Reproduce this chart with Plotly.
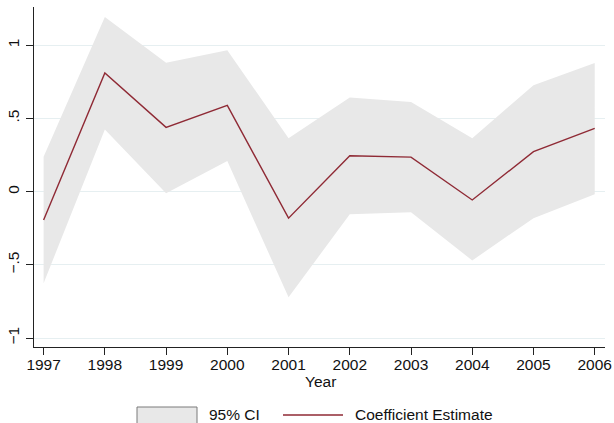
import plotly.graph_objects as go

years = [1997, 1998, 1999, 2000, 2001, 2002, 2003, 2004, 2005, 2006]
coef = [-0.193, 0.811, 0.439, 0.589, -0.181, 0.245, 0.236, -0.057, 0.273, 0.432]
upper = [0.239, 1.193, 0.880, 0.966, 0.364, 0.643, 0.613, 0.364, 0.727, 0.879]
lower = [-0.625, 0.425, -0.011, 0.209, -0.722, -0.154, -0.140, -0.470, -0.181, -0.018]

ytick_vals = [-1, -0.5, 0, 0.5, 1]
ytick_text = ["\u22121", "\u2212.5", "0", ".5", "1"]
xtick_vals = years
xtick_text = [str(y) for y in years]

FONT = "Liberation Sans, Arial, sans-serif"
FS = 15.5
CI_COLOR = "#e8e8e8"
LINE_COLOR = "#8f2a35"

fig = go.Figure()
fig.add_trace(go.Scatter(
    x=years + years[::-1], y=upper + lower[::-1],
    fill="toself", fillcolor=CI_COLOR, line=dict(width=0),
    mode="lines", name="95% CI", hoverinfo="skip", showlegend=False))
fig.add_trace(go.Scatter(
    x=years, y=coef, mode="lines", name="Coefficient Estimate",
    line=dict(color=LINE_COLOR, width=1.4), showlegend=False))

PH = 340.0
PW = 571.0

fig.update_layout(
    width=614, height=423,
    margin=dict(l=34, r=9, t=7, b=76),
    paper_bgcolor="white", plot_bgcolor="white",
    font=dict(family=FONT, size=FS, color="#111111"),
    xaxis=dict(
        range=[1996.843, 2006.168], tickvals=xtick_vals, ticktext=xtick_text,
        showgrid=False, zeroline=False, showline=True, linecolor="#222222", linewidth=1,
        ticks="outside", ticklen=7, tickcolor="#222222", tickwidth=1,
        tickfont=dict(size=FS), automargin=False, ticklabelstandoff=-4,
    ),
    yaxis=dict(
        range=[-1.061, 1.261], tickvals=ytick_vals, ticktext=ytick_text,
        showgrid=True, gridcolor="#e6eff1", gridwidth=1, zeroline=False,
        showline=True, linecolor="#222222", linewidth=1,
        ticks="outside", ticklen=7, tickcolor="#222222", tickwidth=1,
        tickangle=-90, tickfont=dict(size=FS), automargin=False, ticklabelstandoff=1,
    ),
    shapes=[
        dict(type="rect", xref="paper", yref="paper",
             x0=(137 - 34) / PW, x1=(197 - 34) / PW,
             y0=-(423 - 347 + 2) / PH, y1=-(407 - 347) / PH,
             fillcolor=CI_COLOR, line=dict(color="#7a7a7a", width=1)),
        dict(type="line", xref="paper", yref="paper",
             x0=(283 - 34) / PW, x1=(343 - 34) / PW,
             y0=-(415 - 347) / PH, y1=-(415 - 347) / PH,
             line=dict(color=LINE_COLOR, width=1.4)),
    ],
    annotations=[
        dict(text="Year", xref="paper", yref="paper",
             x=(320 - 34) / PW, y=-(381 - 347) / PH,
             xanchor="center", yanchor="middle", showarrow=False,
             font=dict(size=FS)),
        dict(text="95% CI", xref="paper", yref="paper",
             x=(207 - 34) / PW, y=-(414 - 347) / PH,
             xanchor="left", yanchor="middle", showarrow=False,
             font=dict(size=FS)),
        dict(text="Coefficient Estimate", xref="paper", yref="paper",
             x=(353 - 34) / PW, y=-(414 - 347) / PH,
             xanchor="left", yanchor="middle", showarrow=False,
             font=dict(size=FS)),
    ],
)

fig.write_html(
    "out.html",
    config={"displayModeBar": False},
    post_script="document.body.style.margin='0';document.body.style.padding='0';document.body.style.overflow='hidden';",
)
